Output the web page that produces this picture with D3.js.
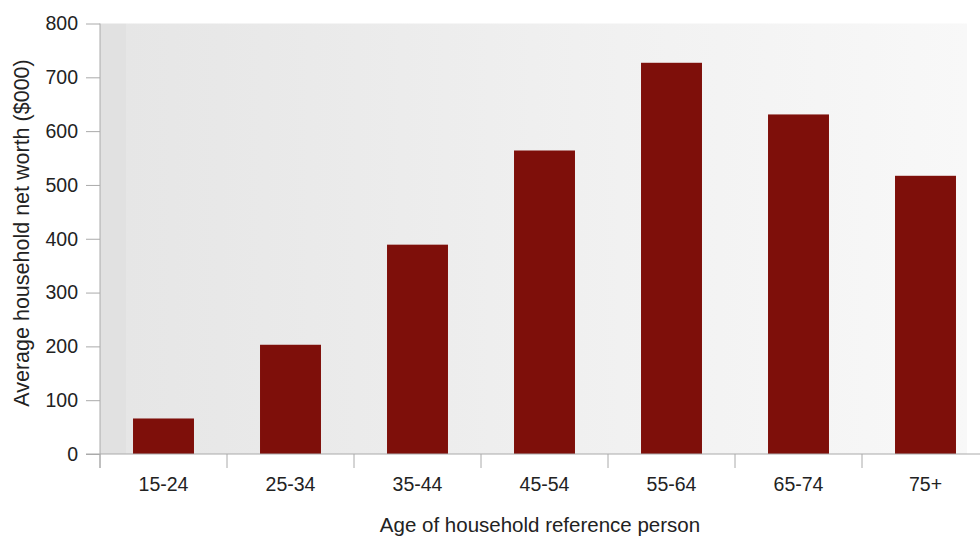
<!DOCTYPE html>
<html><head><meta charset="utf-8">
<script src="https://cdn.jsdelivr.net/npm/d3@7"></script>
<style>body{margin:0;background:#fff}svg{display:block;font-family:"Liberation Sans",Arial,Helvetica,sans-serif}</style>
</head><body><svg id="c" width="980" height="536"></svg>
<script>
const categories = ["15-24","25-34","35-44","45-54","55-64","65-74","75+"];
const values = [66, 203, 389, 564, 727, 631, 517];
const yTicks = [0,100,200,300,400,500,600,700,800];
const xTitle = "Age of household reference person";
const yTitle = "Average household net worth ($000)";

const svg = d3.select("#c");
const x = d3.scaleBand().domain(categories).range([100, 989]).paddingInner(0.52).paddingOuter(0.26);
const y = d3.scaleLinear().domain([0, 800]).range([454, 23.5]);

const defs = svg.append("defs");
const g = defs.append("linearGradient").attr("id","bg").attr("x1","0").attr("x2","1").attr("y1","0").attr("y2","0");
[[0,"#e1e1e1"],[0.03,"#e1e1e1"],[0.03,"#e6e6e6"],[0.35,"#ececec"],[0.6,"#f1f1f1"],[1,"#f8f8f8"]]
  .forEach(([o,c])=>g.append("stop").attr("offset",o).attr("stop-color",c));

svg.append("rect").attr("x",100).attr("y",y(800)).attr("width",867).attr("height",y(0)-y(800)).attr("fill","url(#bg)");

svg.append("g").selectAll("rect").data(values).join("rect")
  .attr("x",(d,i)=>x(categories[i])).attr("width",x.bandwidth())
  .attr("y",d=>y(d)).attr("height",d=>y(0)-y(d)).attr("fill","#7e0f0a");

// y axis
const ya = svg.append("g").attr("transform","translate(100,0)")
  .call(d3.axisLeft(y).tickValues(yTicks).tickSize(14).tickPadding(8).tickFormat(d3.format("d")));
ya.select(".domain").attr("stroke","#aaa").attr("d","M0,"+y(800)+"V"+(y(0)+14));
ya.selectAll(".tick line").attr("stroke","#aaa");
ya.selectAll("text").attr("font-size",19.5).attr("fill","#222");

// x axis
const xa = svg.append("g").attr("transform","translate(0,454)")
  .call(d3.axisBottom(x).tickSize(0).tickPadding(23));
xa.select(".domain").attr("stroke","#aaa").attr("d","M86,0H980");
xa.selectAll("text").attr("font-size",19.5).attr("fill","#222");
const bounds = [100].concat(categories.map(c=>x(c)+x.bandwidth()+x.step()*x.paddingInner()/2));
xa.append("g").selectAll("line").data(bounds.slice(0,7)).join("line")
  .attr("x1",d=>d).attr("x2",d=>d).attr("y1",0).attr("y2",14).attr("stroke","#aaa");

svg.append("text").attr("x",540).attr("y",532).attr("text-anchor","middle").attr("font-size",20.5).attr("fill","#222").text(xTitle);
svg.append("text").attr("transform","translate(29,233) rotate(-90)").attr("text-anchor","middle").attr("font-size",21.5).attr("fill","#222").text(yTitle);
</script></body></html>
